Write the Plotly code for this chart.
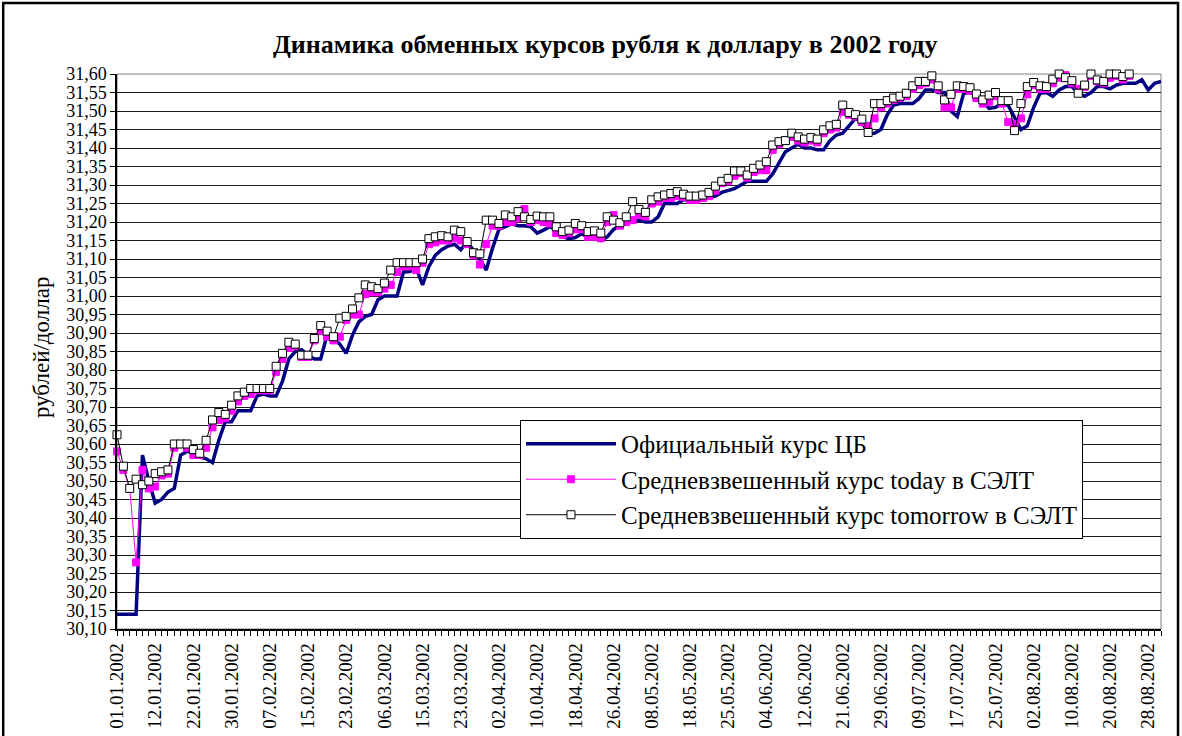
import plotly.graph_objects as go

# Подписи дат на оси X (каждая 6-я торговая дата)
TICK_LABELS = [
    "01.01.2002", "12.01.2002", "22.01.2002", "30.01.2002", "07.02.2002",
    "15.02.2002", "23.02.2002", "06.03.2002", "15.03.2002", "23.03.2002",
    "02.04.2002", "10.04.2002", "18.04.2002", "26.04.2002", "08.05.2002",
    "18.05.2002", "25.05.2002", "04.06.2002", "12.06.2002", "21.06.2002",
    "29.06.2002", "09.07.2002", "17.07.2002", "25.07.2002", "02.08.2002",
    "10.08.2002", "20.08.2002", "28.08.2002",
]
LABEL_STEP = 6

# Официальный курс ЦБ
official = [
    30.14, 30.14, 30.14, 30.14, 30.57, 30.50, 30.44, 30.45, 30.47, 30.48,
    30.57, 30.58, 30.58, 30.565, 30.56, 30.55, 30.61, 30.66, 30.66, 30.69,
    30.69, 30.69, 30.73, 30.735, 30.73, 30.73, 30.77, 30.83, 30.85, 30.855,
    30.84, 30.83, 30.83, 30.895, 30.885, 30.87, 30.845, 30.895, 30.93, 30.945,
    30.95, 30.99, 31.00, 31.00, 31.00, 31.065, 31.066, 31.075, 31.03, 31.08,
    31.11, 31.125, 31.135, 31.14, 31.125, 31.147, 31.125, 31.10, 31.07, 31.13,
    31.18, 31.187, 31.195, 31.19, 31.19, 31.187, 31.17, 31.178, 31.187, 31.18,
    31.16, 31.155, 31.158, 31.168, 31.16, 31.155, 31.15, 31.16, 31.18, 31.19,
    31.205, 31.20, 31.205, 31.20, 31.20, 31.214, 31.25, 31.25, 31.25, 31.26,
    31.26, 31.26, 31.26, 31.265, 31.27, 31.28, 31.285, 31.29, 31.30, 31.31,
    31.31, 31.31, 31.31, 31.33, 31.36, 31.39, 31.40, 31.41, 31.40, 31.40,
    31.395, 31.395, 31.42, 31.435, 31.44, 31.46, 31.48, 31.47, 31.44, 31.44,
    31.45, 31.49, 31.516, 31.52, 31.52, 31.52, 31.534, 31.557, 31.557, 31.55,
    31.55, 31.50, 31.485, 31.548, 31.55, 31.545, 31.525, 31.507, 31.51, 31.52,
    31.515, 31.48, 31.45, 31.46, 31.51, 31.548, 31.55, 31.54, 31.557, 31.566,
    31.566, 31.548, 31.54, 31.55, 31.566, 31.566, 31.56, 31.57, 31.575, 31.575,
    31.575, 31.584, 31.557, 31.575, 31.58,
]

# Средневзвешенный курс today в СЭЛТ
today = [
    30.58, 30.53, 30.48, 30.28, 30.53, 30.48, 30.485, 30.515, 30.52, 30.59,
    30.60, 30.59, 30.57, 30.57, 30.59, 30.645, 30.665, 30.67, 30.69, 30.715,
    30.73, 30.735, 30.745, 30.745, 30.745, 30.795, 30.83, 30.86, 30.865, 30.835,
    30.835, 30.88, 30.905, 30.89, 30.88, 30.89, 30.935, 30.95, 30.95, 31.005,
    31.01, 31.01, 31.02, 31.03, 31.065, 31.08, 31.08, 31.07, 31.09, 31.14,
    31.145, 31.15, 31.15, 31.156, 31.15, 31.14, 31.11, 31.085, 31.14, 31.19,
    31.19, 31.20, 31.20, 31.21, 31.235, 31.20, 31.205, 31.20, 31.196, 31.17,
    31.165, 31.17, 31.18, 31.18, 31.16, 31.16, 31.156, 31.20, 31.219, 31.19,
    31.20, 31.205, 31.22, 31.215, 31.25, 31.255, 31.265, 31.265, 31.27, 31.268,
    31.26, 31.26, 31.265, 31.27, 31.285, 31.305, 31.31, 31.325, 31.332, 31.32,
    31.335, 31.34, 31.34, 31.395, 31.41, 31.42, 31.43, 31.42, 31.415, 31.42,
    31.415, 31.44, 31.45, 31.455, 31.498, 31.49, 31.485, 31.47, 31.46, 31.48,
    31.51, 31.52, 31.53, 31.535, 31.54, 31.56, 31.57, 31.575, 31.585, 31.56,
    31.51, 31.51, 31.56, 31.56, 31.555, 31.535, 31.52, 31.525, 31.54, 31.52,
    31.47, 31.465, 31.48, 31.545, 31.57, 31.56, 31.56, 31.575, 31.59, 31.597,
    31.575, 31.56, 31.565, 31.595, 31.58, 31.575, 31.59, 31.595, 31.585, 31.595,
]

# Средневзвешенный курс tomorrow в СЭЛТ
tomorrow = [
    30.625, 30.54, 30.48, 30.505, 30.49, 30.50, 30.52, 30.525, 30.53, 30.60,
    30.60, 30.60, 30.585, 30.575, 30.61, 30.665, 30.685, 30.68, 30.705, 30.73,
    30.74, 30.75, 30.75, 30.75, 30.75, 30.81, 30.845, 30.875, 30.87, 30.84,
    30.84, 30.885, 30.92, 30.905, 30.89, 30.94, 30.945, 30.965, 30.995, 31.03,
    31.025, 31.02, 31.035, 31.07, 31.09, 31.09, 31.09, 31.09, 31.10, 31.155,
    31.16, 31.163, 31.16, 31.178, 31.174, 31.147, 31.117, 31.114, 31.205, 31.205,
    31.196, 31.219, 31.214, 31.228, 31.214, 31.207, 31.216, 31.214, 31.214, 31.187,
    31.174, 31.178, 31.196, 31.19, 31.174, 31.176, 31.17, 31.214, 31.205, 31.198,
    31.214, 31.255, 31.234, 31.226, 31.26, 31.268, 31.273, 31.277, 31.282, 31.275,
    31.27, 31.27, 31.273, 31.28, 31.297, 31.31, 31.318, 31.338, 31.338, 31.327,
    31.345, 31.354, 31.363, 31.408, 31.417, 31.42, 31.44, 31.43, 31.424, 31.428,
    31.424, 31.449, 31.46, 31.464, 31.516, 31.496, 31.49, 31.478, 31.442, 31.52,
    31.52, 31.528, 31.535, 31.54, 31.548, 31.568, 31.58, 31.58, 31.595, 31.568,
    31.53, 31.545, 31.568, 31.566, 31.563, 31.546, 31.53, 31.543, 31.55, 31.528,
    31.528, 31.447, 31.52, 31.566, 31.577, 31.568, 31.566, 31.586, 31.60, 31.59,
    31.582, 31.548, 31.57, 31.60, 31.584, 31.58, 31.60, 31.60, 31.593, 31.60,
]

SERIF = "Liberation Serif"

fig = go.Figure()

fig.add_trace(go.Scatter(
    x=list(range(len(official))), y=official,
    mode="lines", name="Официальный курс ЦБ",
    line=dict(color="#000080", width=3.5),
))
fig.add_trace(go.Scatter(
    x=list(range(len(today))), y=today,
    mode="lines+markers", name="Средневзвешенный курс today в СЭЛТ",
    line=dict(color="#FF00FF", width=1),
    marker=dict(symbol="square", size=7, color="#FF00FF",
                line=dict(color="#FF00FF", width=1)),
    cliponaxis=False,
))
fig.add_trace(go.Scatter(
    x=list(range(len(tomorrow))), y=tomorrow,
    mode="lines+markers", name="Средневзвешенный курс tomorrow в СЭЛТ",
    line=dict(color="#000000", width=1),
    marker=dict(symbol="square", size=8, color="#FFFFFF",
                line=dict(color="#000000", width=1)),
    cliponaxis=False,
))

n = len(official)
fig.update_layout(
    width=1182, height=736,
    paper_bgcolor="white", plot_bgcolor="white",
    separators=", ",
    font=dict(family=SERIF, color="black", size=18),
    title=dict(text="<b>Динамика обменных курсов рубля к доллару в 2002 году</b>",
               x=0.512, xanchor="center", y=0.94, yanchor="middle",
               font=dict(family=SERIF, size=26)),
    margin=dict(l=117, r=21, t=74, b=107),
    showlegend=True,
    legend=dict(
        x=0.386, y=0.3766, xanchor="left", yanchor="top",
        bgcolor="white", bordercolor="black", borderwidth=1,
        font=dict(family=SERIF, size=25),
        itemwidth=90, tracegroupgap=0,
    ),
    annotations=[
        dict(text="рублей/доллар", textangle=-90,
             xref="paper", yref="paper", x=-0.0728, y=0.508,
             xanchor="center", yanchor="middle", showarrow=False,
             font=dict(family=SERIF, size=23)),
    ],
    shapes=[
        # рамка всей диаграммы
        dict(type="rect", xref="paper", yref="paper",
             x0=-0.109, x1=1.0163, y0=-0.25, y1=1.128,
             line=dict(color="black", width=2.5), layer="below"),
        # рамка области построения
        dict(type="rect", xref="paper", yref="paper",
             x0=0, x1=1, y0=0, y1=1,
             line=dict(color="#808080", width=1), layer="below"),
    ],
)

fig.update_xaxes(
    range=[0, n - 1],
    tickmode="array",
    tickvals=list(range(0, LABEL_STEP * len(TICK_LABELS), LABEL_STEP)),
    ticktext=TICK_LABELS,
    tickangle=-90,
    tickfont=dict(family=SERIF, size=19),
    ticks="outside", ticklen=5, tickcolor="black",
    minor=dict(dtick=1, tick0=0, ticks="outside", ticklen=5, tickcolor="black"),
    showgrid=False, zeroline=False, automargin=False,
    showline=True, linecolor="black", linewidth=1.5,
)

fig.update_yaxes(
    range=[30.10, 31.60],
    dtick=0.05, tick0=30.10, tickformat=".2f",
    tickfont=dict(family=SERIF, size=18),
    ticks="outside", ticklen=5, tickcolor="black",
    showgrid=True, gridcolor="#1a1a1a", gridwidth=1,
    zeroline=False, automargin=False,
    showline=True, linecolor="black", linewidth=1.5,
)

fig.write_html(
    "out.html",
    config={"displayModeBar": False},
    post_script="document.body.style.margin='0px';",
)
